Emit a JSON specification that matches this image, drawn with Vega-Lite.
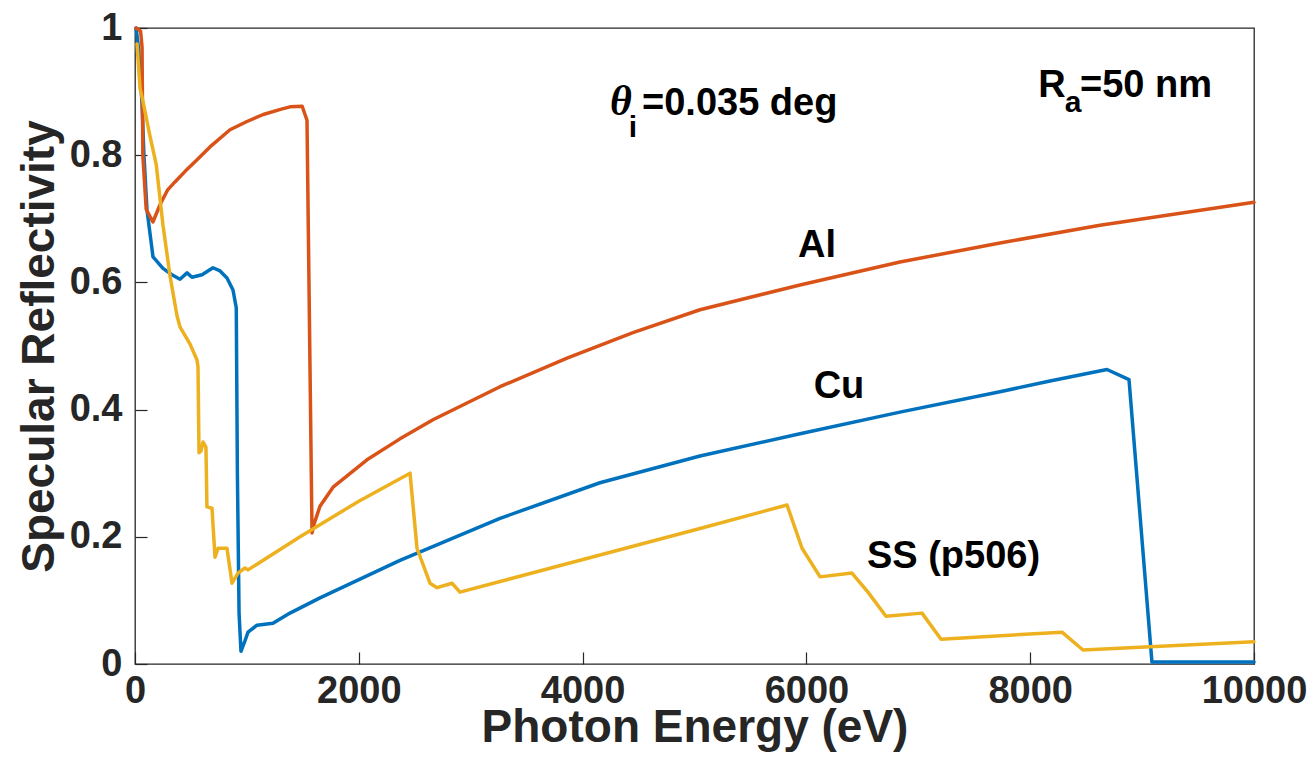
{
  "$schema": "https://vega.github.io/schema/vega-lite/v6.json",
  "width": 1119,
  "height": 636,
  "autosize": "none",
  "padding": {"left": 135, "top": 28, "right": 60, "bottom": 99},
  "background": "white",
  "config": {
    "view": {"stroke": "#262626", "strokeWidth": 1.3},
    "axis": {
      "labelFont": "Liberation Sans", "labelFontWeight": "bold", "labelFontSize": 38, "labelColor": "#262626",
      "titleFont": "Liberation Sans", "titleFontWeight": "bold", "titleFontSize": 46, "titleColor": "#262626",
      "grid": false, "domain": false, "tickColor": "#262626", "tickWidth": 1.2
    }
  },
  "datasets": {
    "curves": [
      {"m": "Cu", "E": 10, "R": 1.0}, {"m": "Cu", "E": 30, "R": 0.97}, {"m": "Cu", "E": 50, "R": 0.92}, {"m": "Cu", "E": 63, "R": 0.88},
      {"m": "Cu", "E": 80, "R": 0.80}, {"m": "Cu", "E": 107, "R": 0.714}, {"m": "Cu", "E": 161, "R": 0.64}, {"m": "Cu", "E": 250, "R": 0.622},
      {"m": "Cu", "E": 330, "R": 0.612}, {"m": "Cu", "E": 402, "R": 0.605}, {"m": "Cu", "E": 465, "R": 0.615}, {"m": "Cu", "E": 509, "R": 0.608},
      {"m": "Cu", "E": 599, "R": 0.612}, {"m": "Cu", "E": 697, "R": 0.623}, {"m": "Cu", "E": 760, "R": 0.618}, {"m": "Cu", "E": 822, "R": 0.607},
      {"m": "Cu", "E": 876, "R": 0.588}, {"m": "Cu", "E": 905, "R": 0.56}, {"m": "Cu", "E": 915, "R": 0.3}, {"m": "Cu", "E": 930, "R": 0.08},
      {"m": "Cu", "E": 947, "R": 0.02}, {"m": "Cu", "E": 980, "R": 0.035}, {"m": "Cu", "E": 1010, "R": 0.05}, {"m": "Cu", "E": 1090, "R": 0.061},
      {"m": "Cu", "E": 1233, "R": 0.064}, {"m": "Cu", "E": 1385, "R": 0.08}, {"m": "Cu", "E": 1653, "R": 0.104}, {"m": "Cu", "E": 2368, "R": 0.163},
      {"m": "Cu", "E": 3262, "R": 0.229}, {"m": "Cu", "E": 4155, "R": 0.285}, {"m": "Cu", "E": 5049, "R": 0.327}, {"m": "Cu", "E": 5943, "R": 0.362},
      {"m": "Cu", "E": 6836, "R": 0.396}, {"m": "Cu", "E": 7730, "R": 0.428}, {"m": "Cu", "E": 8177, "R": 0.445}, {"m": "Cu", "E": 8686, "R": 0.463},
      {"m": "Cu", "E": 8883, "R": 0.447}, {"m": "Cu", "E": 9088, "R": 0.003}, {"m": "Cu", "E": 10000, "R": 0.003},

      {"m": "Al", "E": 10, "R": 1.0}, {"m": "Al", "E": 50, "R": 0.995}, {"m": "Al", "E": 63, "R": 0.97}, {"m": "Al", "E": 70, "R": 0.80},
      {"m": "Al", "E": 100, "R": 0.715}, {"m": "Al", "E": 160, "R": 0.695}, {"m": "Al", "E": 223, "R": 0.722}, {"m": "Al", "E": 290, "R": 0.745},
      {"m": "Al", "E": 357, "R": 0.758}, {"m": "Al", "E": 450, "R": 0.775}, {"m": "Al", "E": 550, "R": 0.792}, {"m": "Al", "E": 670, "R": 0.813},
      {"m": "Al", "E": 849, "R": 0.840}, {"m": "Al", "E": 1000, "R": 0.853}, {"m": "Al", "E": 1146, "R": 0.864}, {"m": "Al", "E": 1300, "R": 0.872},
      {"m": "Al", "E": 1385, "R": 0.876}, {"m": "Al", "E": 1494, "R": 0.877}, {"m": "Al", "E": 1537, "R": 0.855}, {"m": "Al", "E": 1582, "R": 0.206},
      {"m": "Al", "E": 1600, "R": 0.22}, {"m": "Al", "E": 1653, "R": 0.248}, {"m": "Al", "E": 1770, "R": 0.278}, {"m": "Al", "E": 2073, "R": 0.321},
      {"m": "Al", "E": 2368, "R": 0.354}, {"m": "Al", "E": 2663, "R": 0.384}, {"m": "Al", "E": 3262, "R": 0.436}, {"m": "Al", "E": 3861, "R": 0.481},
      {"m": "Al", "E": 4450, "R": 0.521}, {"m": "Al", "E": 5049, "R": 0.557}, {"m": "Al", "E": 5943, "R": 0.596}, {"m": "Al", "E": 6836, "R": 0.632},
      {"m": "Al", "E": 7730, "R": 0.662}, {"m": "Al", "E": 8624, "R": 0.69}, {"m": "Al", "E": 10000, "R": 0.726},

      {"m": "SS", "E": 18, "R": 0.975}, {"m": "SS", "E": 45, "R": 0.905}, {"m": "SS", "E": 71, "R": 0.885}, {"m": "SS", "E": 134, "R": 0.83},
      {"m": "SS", "E": 190, "R": 0.785}, {"m": "SS", "E": 250, "R": 0.69}, {"m": "SS", "E": 313, "R": 0.61}, {"m": "SS", "E": 375, "R": 0.548},
      {"m": "SS", "E": 402, "R": 0.53}, {"m": "SS", "E": 492, "R": 0.503}, {"m": "SS", "E": 554, "R": 0.478}, {"m": "SS", "E": 563, "R": 0.467},
      {"m": "SS", "E": 572, "R": 0.332}, {"m": "SS", "E": 590, "R": 0.335}, {"m": "SS", "E": 608, "R": 0.349}, {"m": "SS", "E": 634, "R": 0.341},
      {"m": "SS", "E": 643, "R": 0.247}, {"m": "SS", "E": 688, "R": 0.245}, {"m": "SS", "E": 715, "R": 0.168}, {"m": "SS", "E": 742, "R": 0.182},
      {"m": "SS", "E": 822, "R": 0.182}, {"m": "SS", "E": 867, "R": 0.127}, {"m": "SS", "E": 920, "R": 0.143}, {"m": "SS", "E": 983, "R": 0.151},
      {"m": "SS", "E": 1010, "R": 0.148}, {"m": "SS", "E": 1475, "R": 0.2}, {"m": "SS", "E": 2000, "R": 0.256}, {"m": "SS", "E": 2458, "R": 0.3},
      {"m": "SS", "E": 2520, "R": 0.182}, {"m": "SS", "E": 2636, "R": 0.127}, {"m": "SS", "E": 2699, "R": 0.12}, {"m": "SS", "E": 2833, "R": 0.127},
      {"m": "SS", "E": 2904, "R": 0.113}, {"m": "SS", "E": 5049, "R": 0.213}, {"m": "SS", "E": 5827, "R": 0.25}, {"m": "SS", "E": 5961, "R": 0.182},
      {"m": "SS", "E": 6122, "R": 0.137}, {"m": "SS", "E": 6407, "R": 0.143}, {"m": "SS", "E": 6550, "R": 0.113}, {"m": "SS", "E": 6711, "R": 0.075},
      {"m": "SS", "E": 7033, "R": 0.08}, {"m": "SS", "E": 7203, "R": 0.039}, {"m": "SS", "E": 8284, "R": 0.05}, {"m": "SS", "E": 8472, "R": 0.022},
      {"m": "SS", "E": 10000, "R": 0.035}
    ],
    "labels": [
      {"t": "Al", "E": 6095, "R": 0.64},
      {"t": "Cu", "E": 6291, "R": 0.418},
      {"t": "SS (p506)", "E": 7315, "R": 0.151}
    ],
    "theta": [{"t": "θ", "E": 4343, "R": 0.863}],
    "subs": [
      {"t": "i", "E": 4450, "R": 0.829},
      {"t": "a", "E": 8383, "R": 0.868}
    ],
    "eqL": [{"t": "=0.035 deg", "E": 4531, "R": 0.863}],
    "eqR": [{"t": "=50 nm", "E": 9625, "R": 0.891}],
    "rr": [{"t": "R", "E": 8195, "R": 0.891}]
  },
  "layer": [
    {
      "data": {"name": "curves"},
      "mark": {"type": "line", "strokeWidth": 3.5, "strokeJoin": "round", "strokeCap": "round"},
      "encoding": {
        "x": {"field": "E", "type": "quantitative", "title": "Photon Energy (eV)", "scale": {"domain": [0, 10000], "nice": false, "zero": false},
              "axis": {"orient": "bottom", "values": [0, 2000, 4000, 6000, 8000, 10000], "format": "d", "ticks": true, "tickSize": 12, "offset": -12,
                       "labelPadding": 8, "labelFlush": false, "labelOverlap": false, "title": "Photon Energy (eV)", "titlePadding": -5}},
        "y": {"field": "R", "type": "quantitative", "title": "Specular Reflectivity", "scale": {"domain": [0, 1], "nice": false},
              "axis": {"orient": "left", "values": [0, 0.2, 0.4, 0.6, 0.8, 1], "format": "~g", "ticks": true, "tickSize": 12, "offset": -12,
                       "labelPadding": 13, "labelFlush": false, "labelOverlap": false, "title": "Specular Reflectivity", "titlePadding": 6}},
        "color": {"field": "m", "type": "nominal", "scale": {"domain": ["Cu", "Al", "SS"], "range": ["#0072BD", "#D95319", "#EDB120"]}, "legend": null},
        "order": {"field": "E", "type": "quantitative"}
      }
    },
    {
      "data": {"name": "labels"},
      "mark": {"type": "text", "font": "Liberation Sans", "fontWeight": "bold", "fontSize": 38, "align": "center", "baseline": "alphabetic", "color": "#000000"},
      "encoding": {
        "x": {"field": "E", "type": "quantitative", "title": "Photon Energy (eV)"},
        "y": {"field": "R", "type": "quantitative", "title": "Specular Reflectivity"},
        "text": {"field": "t"}
      }
    },
    {
      "data": {"name": "theta"},
      "mark": {"type": "text", "font": "Liberation Serif", "fontStyle": "italic", "fontWeight": "bold", "fontSize": 42, "align": "center", "baseline": "alphabetic", "color": "#000000"},
      "encoding": {
        "x": {"field": "E", "type": "quantitative", "title": "Photon Energy (eV)"},
        "y": {"field": "R", "type": "quantitative", "title": "Specular Reflectivity"},
        "text": {"field": "t"}
      }
    },
    {
      "data": {"name": "subs"},
      "mark": {"type": "text", "font": "Liberation Sans", "fontWeight": "bold", "fontSize": 30, "align": "center", "baseline": "alphabetic", "color": "#000000"},
      "encoding": {
        "x": {"field": "E", "type": "quantitative", "title": "Photon Energy (eV)"},
        "y": {"field": "R", "type": "quantitative", "title": "Specular Reflectivity"},
        "text": {"field": "t"}
      }
    },
    {
      "data": {"name": "eqL"},
      "mark": {"type": "text", "font": "Liberation Sans", "fontWeight": "bold", "fontSize": 38, "align": "left", "baseline": "alphabetic", "color": "#000000"},
      "encoding": {
        "x": {"field": "E", "type": "quantitative", "title": "Photon Energy (eV)"},
        "y": {"field": "R", "type": "quantitative", "title": "Specular Reflectivity"},
        "text": {"field": "t"}
      }
    },
    {
      "data": {"name": "eqR"},
      "mark": {"type": "text", "font": "Liberation Sans", "fontWeight": "bold", "fontSize": 38, "align": "right", "baseline": "alphabetic", "color": "#000000"},
      "encoding": {
        "x": {"field": "E", "type": "quantitative", "title": "Photon Energy (eV)"},
        "y": {"field": "R", "type": "quantitative", "title": "Specular Reflectivity"},
        "text": {"field": "t"}
      }
    },
    {
      "data": {"name": "rr"},
      "mark": {"type": "text", "font": "Liberation Sans", "fontWeight": "bold", "fontSize": 38, "align": "center", "baseline": "alphabetic", "color": "#000000"},
      "encoding": {
        "x": {"field": "E", "type": "quantitative", "title": "Photon Energy (eV)"},
        "y": {"field": "R", "type": "quantitative", "title": "Specular Reflectivity"},
        "text": {"field": "t"}
      }
    }
  ]
}
